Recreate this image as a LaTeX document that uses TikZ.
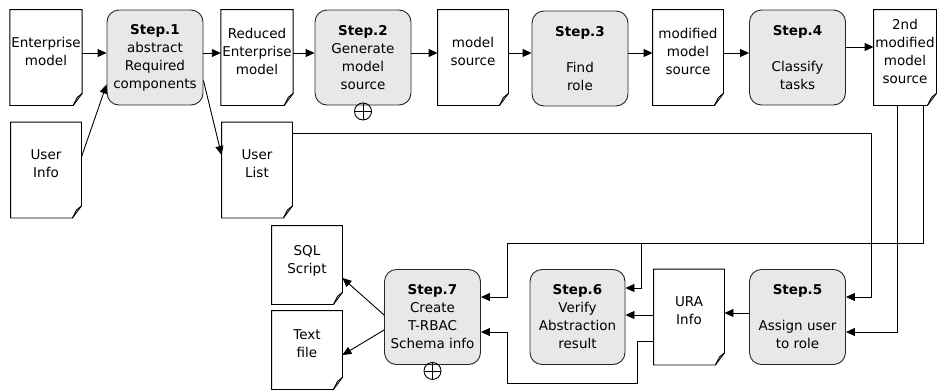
\documentclass[tikz,border=0pt]{standalone}
\usepackage{fontspec}
\setmainfont{DejaVu Sans}
\usetikzlibrary{arrows.meta}

\begin{document}
\begin{tikzpicture}[
        x=1pt, y=-1pt,
        line width=0.9pt,
        >={Triangle[length=9pt,width=8pt]},
        every node/.style={align=center, font=\fontsize{13.5}{18}\selectfont},
        stepbox/.style={draw=black!85, fill=black!9, rounded corners=12pt,
            minimum width=96pt, minimum height=95pt, inner sep=2pt},
        doc/.style={minimum width=70pt, minimum height=95pt, inner xsep=1pt, text depth=12pt,
            append after command={\pgfextra{
                \draw (\tikzlastnode.north west) -- (\tikzlastnode.north east)
                    -- ([yshift=12pt]\tikzlastnode.south east) -- ([xshift=-9pt]\tikzlastnode.south east)
                    -- (\tikzlastnode.south west) -- cycle;
                \draw ([yshift=12pt]\tikzlastnode.south east) -- ([xshift=-5pt,yshift=8pt]\tikzlastnode.south east)
                    -- ([xshift=-9pt]\tikzlastnode.south east);}}},
        plus/.style={circle, draw, minimum size=17pt, inner sep=0pt,
            path picture={\draw (path picture bounding box.north) -- (path picture bounding box.south)
                (path picture bounding box.west) -- (path picture bounding box.east);}}
    ]
        \useasboundingbox (0,0) rectangle (937,389);

        \node[doc] (em) at (46,57.5) {Enterprise\\model};
        \node[stepbox] (s1) at (155,57.5) {\textbf{Step.1}\\abstract\\Required\\components};
        \node[doc] (rem) at (257,57.5) {Reduced\\Enterprise\\model};
        \node[stepbox] (s2) at (363,57.5) {\textbf{Step.2}\\Generate\\model\\source};
        \node[plus] (p2) at ([yshift=-6pt]s2.south) {};
        \node[doc] (ms) at (473,57.5) {model\\source};
        \node[stepbox] (s3) at (580,58.5) {\textbf{Step.3}\\[18pt]Find\\role};
        \node[doc] (mms) at (688,57.5) {modified\\model\\source};
        \node[stepbox] (s4) at (797.5,57.5) {\textbf{Step.4}\\[18pt]Classify\\tasks};
        \node[doc, minimum width=62pt] (mms2) at (905,57.5) {2nd\\modified\\model\\source};

        \node[doc] (ui) at (46,170) {User\\Info};
        \node[doc] (ul) at (257,170) {User\\List};

        \node[doc, minimum height=78pt] (sql) at (307,265) {SQL\\Script};
        \node[doc, minimum height=78pt] (txt) at (307,350) {Text\\file};
        \node[stepbox] (s7) at (432.5,317) {\textbf{Step.7}\\Create\\T-RBAC\\Schema info};
        \node[plus] (p7) at ([yshift=-6pt]s7.south) {};
        \node[stepbox, minimum width=95pt] (s6) at (577.5,317) {\textbf{Step.6}\\Verify\\Abstraction\\result};
        \node[doc] (ura) at (689,317) {URA\\Info};
        \node[stepbox] (s5) at (797.5,317) {\textbf{Step.5}\\[18pt]Assign user\\to role};

        \coordinate (row) at (0,53);
        \coordinate (row4) at (0,47);
        \coordinate (bus) at (507,243);
        \coordinate (tap) at (641,243);
        \coordinate (lp1) at (637,383);
        \coordinate (lp2) at (507,383);

        \draw[->] (em.east |- row) -- (s1.west |- row);
        \draw[->] (s1.east |- row) -- (rem.west |- row);
        \draw[->] (rem.east |- row) -- (s2.west |- row);
        \draw[->] (s2.east |- row) -- (ms.west |- row);
        \draw[->] (ms.east |- row) -- (s3.west |- row);
        \draw[->] (s3.east |- row) -- (mms.west |- row);
        \draw[->] (mms.east |- row) -- (s4.west |- row);
        \draw[->] (s4.east |- row4) -- (mms2.west |- row4);

        \draw[->] ([yshift=13pt]ui.east) -- ([yshift=-27pt]s1.west);
        \draw[->] ([yshift=-23pt]s1.east) -- ([yshift=15pt]ul.west);

        \draw[->] ([yshift=37pt]ul.east) -| ([xshift=25pt,yshift=20pt]s5.east) -- ([yshift=20pt]s5.east);
        \draw[->] ([xshift=-8pt]mms2.south) |- ([yshift=-15pt]s5.east);
        \draw[->] ([xshift=18pt]mms2.south) |- (bus) |- ([yshift=20pt]s7.east);
        \draw[->] (tap) |- ([yshift=29pt]s6.east);

        \draw[->] ([yshift=4pt]s5.west) -- ([yshift=4pt]ura.east);
        \draw[->] ([yshift=2pt]ura.west) -- ([yshift=2pt]s6.east);
        \draw[->] ([yshift=-24pt]ura.west) -| (lp1) -- (lp2) |- ([yshift=-15pt]s7.east);

        \draw[->] ([yshift=2pt]s7.west) -- ([yshift=-13pt]sql.east);
        \draw[->] ([yshift=-13pt]s7.west) -- ([yshift=-5pt]txt.east);
    \end{tikzpicture}
\end{document}
